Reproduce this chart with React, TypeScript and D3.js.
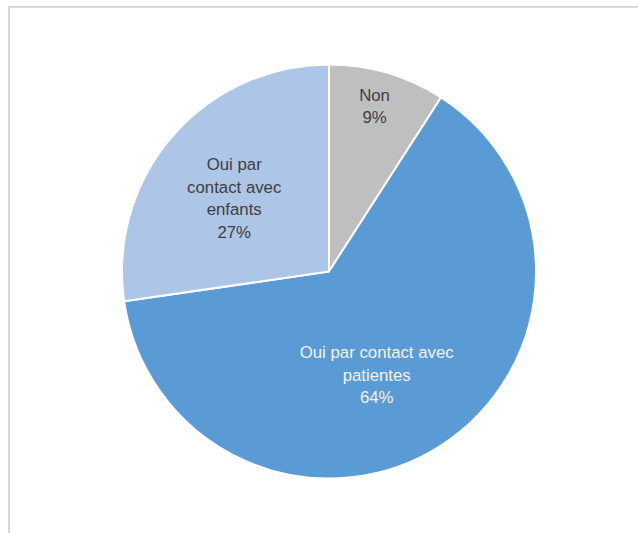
import React, { useEffect, useRef } from 'react';
import * as d3 from 'd3';

// slice order follows the reference: clockwise from 12 o'clock
const categories = ['Non', 'Oui par contact avec patientes', 'Oui par contact avec enfants'];
const values = [9.1, 63.6, 27.3];
const labelLines = [
  ['Non'],
  ['Oui par contact avec', 'patientes'],
  ['Oui par', 'contact avec', 'enfants'],
];

const colors = ['#BFBFBF', '#5B9BD5', '#ADC5E6'];
const textColors = ['#404040', '#F2F2F2', '#404040'];
// where each label sits, as fraction of radius + small angle tweak (deg)
const labelRadius = [0.83, 0.55, 0.58];
const labelAngleShift = [-1, 8, -3];

const width = 638;
const height = 533;

const App: React.FC = () => {
  const svgRef = useRef<SVGSVGElement>(null);

  useEffect(() => {
    if (!svgRef.current) return;
    const svg = d3.select(svgRef.current);
    svg.selectAll('*').remove();

    // chart area border (only top and left visible in the crop)
    svg.append('path')
      .attr('d', `M9,${height} V7 H${width}`)
      .attr('fill', 'none')
      .attr('stroke', '#D9D9D9')
      .attr('stroke-width', 2);

    const cx = 329;
    const cy = 271.5;
    const r = 207;

    const g = svg.append('g').attr('transform', `translate(${cx},${cy})`);

    const pie = d3.pie<number>().sort(null).value(d => d);
    const arcs = pie(values);
    const total = d3.sum(values);
    const arc = d3.arc<d3.PieArcDatum<number>>().innerRadius(0).outerRadius(r);

    g.selectAll('path.slice')
      .data(arcs)
      .enter()
      .append('path')
      .attr('class', 'slice')
      .attr('d', arc)
      .attr('fill', (_, i) => colors[i])
      .attr('stroke', '#FFFFFF')
      .attr('stroke-width', 2)
      .attr('stroke-linejoin', 'round');

    const lineH = 22.5;
    arcs.forEach((a, i) => {
      const mid = (a.startAngle + a.endAngle) / 2 + (labelAngleShift[i] * Math.PI) / 180;
      const lr = r * labelRadius[i];
      const x = Math.sin(mid) * lr;
      const y = -Math.cos(mid) * lr;
      const lines = [...labelLines[i], `${Math.round((values[i] / total) * 100)}%`];
      const t = g.append('text')
        .attr('text-anchor', 'middle')
        .attr('font-family', '"Liberation Sans", Arial, sans-serif')
        .attr('font-size', 16.8)
        .attr('fill', textColors[i])
        .attr('aria-label', categories[i]);
      lines.forEach((ln, k) => {
        t.append('tspan')
          .attr('x', x)
          .attr('y', y + (k - (lines.length - 1) / 2) * lineH + 6)
          .text(ln);
      });
    });
  }, []);

  return (
    <svg
      ref={svgRef}
      width={width}
      height={height}
      style={{ position: 'absolute', left: 0, top: 0, background: '#FFFFFF' }}
    />
  );
};

export default App;
